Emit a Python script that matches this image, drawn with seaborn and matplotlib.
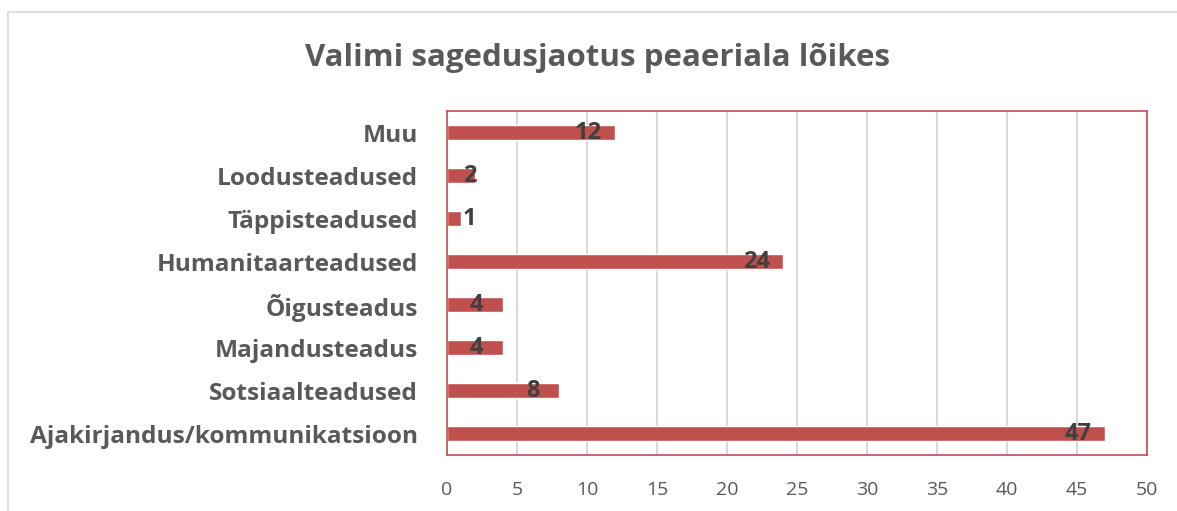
import matplotlib
matplotlib.use("Agg")
import matplotlib.pyplot as plt
import seaborn as sns
import pandas as pd
from matplotlib.patches import Rectangle

categories = ["Muu", "Loodusteadused", "Täppisteadused", "Humanitaarteadused",
              "Õigusteadus", "Majandusteadus", "Sotsiaalteadused",
              "Ajakirjandus/kommunikatsioon"]
values = [12, 2, 1, 24, 4, 4, 8, 47]
xticks = [0, 5, 10, 15, 20, 25, 30, 35, 40, 45, 50]

df = pd.DataFrame({"cat": categories, "val": values})

sns.set_theme(style="white")
plt.rcParams['font.family'] = ['Open Sans', 'DejaVu Sans']

fig = plt.figure(figsize=(11.77, 5.11), dpi=100)
ax = fig.add_axes([447/1177, 1-455/511, 700/1177, 344/511])

red = "#C0504D"
sns.barplot(data=df, y="cat", x="val", orient="h", color=red, width=0.33,
            saturation=1, ax=ax, order=categories)

ax.set_xlim(0, 50)
ax.set_xticks(xticks)
ax.set_xticklabels([str(t) for t in xticks], fontsize=14, color="#595959")
ax.tick_params(axis="x", length=0, pad=19)
ax.tick_params(axis="y", length=0, pad=21)
for lbl in ax.get_yticklabels():
    lbl.set_fontsize(17.6)
    lbl.set_fontweight("bold")
    lbl.set_color("#595959")
ax.set_xlabel("")
ax.set_ylabel("")
ax.grid(axis="x", color="#D9D9D9", linewidth=1.5)
ax.set_axisbelow(True)
for s in ax.spines.values():
    s.set_visible(True)
    s.set_color(red)
    s.set_linewidth(1.2)

for i, v in enumerate(values):
    ax.text(max(v - 1.9, 1.6), i, str(v), ha="center", va="center",
            fontsize=17, fontweight="bold", color="#404040")

fig.text(598/1177, 1-58/511, "Valimi sagedusjaotus peaeriala lõikes", ha="center",
         va="center", fontsize=22.5, fontweight="bold", color="#595959")

fig.patches.append(Rectangle((8/1177, -0.01), 1.0, 1 - 12/511 + 0.01,
                             transform=fig.transFigure, fill=False,
                             edgecolor="#D9D9D9", linewidth=1.2))

fig.savefig("out.png", dpi=100)
